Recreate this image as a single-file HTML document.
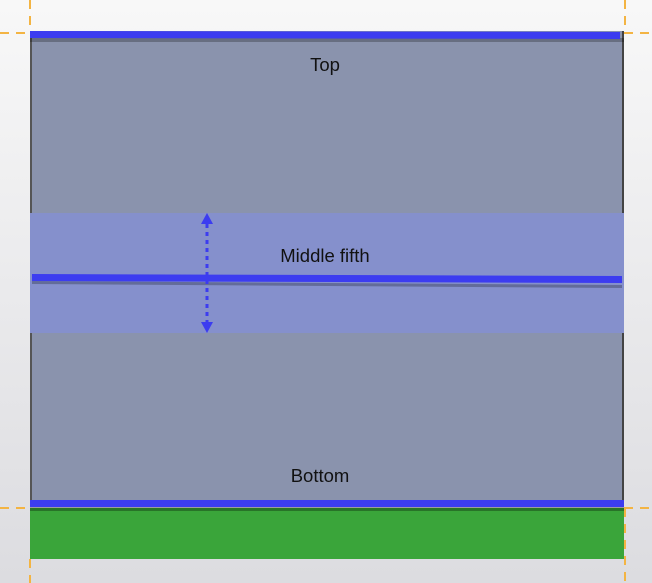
<!DOCTYPE html>
<html><head><style>
body{margin:0;width:652px;height:583px;overflow:hidden;background:linear-gradient(#f8f8f8,#dcdce0);font-family:"Liberation Sans",sans-serif;position:relative}
div{position:absolute}
.t{font-size:18.5px;color:#111;width:200px;text-align:center}
</style></head><body>
<div style="left:30px;top:31px;width:594px;height:476px;background:#8a93ad;border-right:2px solid #444;box-sizing:border-box;border-left:2px solid #555"></div>
<div style="left:30px;top:213px;width:594px;height:120px;background:#8590cc"></div>
<div style="left:30px;top:508px;width:594px;height:51px;background:#3aa53a"></div>
<svg width="652" height="583" style="position:absolute;left:0;top:0">
<g stroke="#f3b443" stroke-width="2" stroke-dasharray="9,7">
<line x1="30" y1="0" x2="30" y2="31"/><line x1="30" y1="559" x2="30" y2="583"/>
<line x1="625" y1="0" x2="625" y2="31"/><line x1="625" y1="508" x2="625" y2="583"/>
<line x1="0" y1="33" x2="30" y2="33"/><line x1="624" y1="33" x2="652" y2="33"/>
<line x1="0" y1="508" x2="30" y2="508"/><line x1="624" y1="508" x2="652" y2="508"/>
</g>
<rect x="30" y="38" width="594" height="4" fill="#000" opacity="0.25"/>
<polygon points="30,31 620,32 620,39 30,38" fill="#3c3cf0"/>
<polygon points="32,281 622,285 622,288 32,284" fill="#000" opacity="0.25"/>
<polygon points="32,274 622,276 622,283 32,281" fill="#3c3cf0"/>
<rect x="30" y="507" width="594" height="4" fill="#000" opacity="0.3"/>
<rect x="30" y="500" width="594" height="7" fill="#3c3cf0"/>
<line x1="207" y1="224" x2="207" y2="322" stroke="#3c3cf0" stroke-width="3" stroke-dasharray="4,4"/>
<polygon points="207,213 201,224 213,224" fill="#3c3cf0"/>
<polygon points="207,333 201,322 213,322" fill="#3c3cf0"/>
</svg>
<div class="t" style="left:225px;top:54px">Top</div>
<div class="t" style="left:225px;top:245px">Middle fifth</div>
<div class="t" style="left:220px;top:465px">Bottom</div>
</body></html>
